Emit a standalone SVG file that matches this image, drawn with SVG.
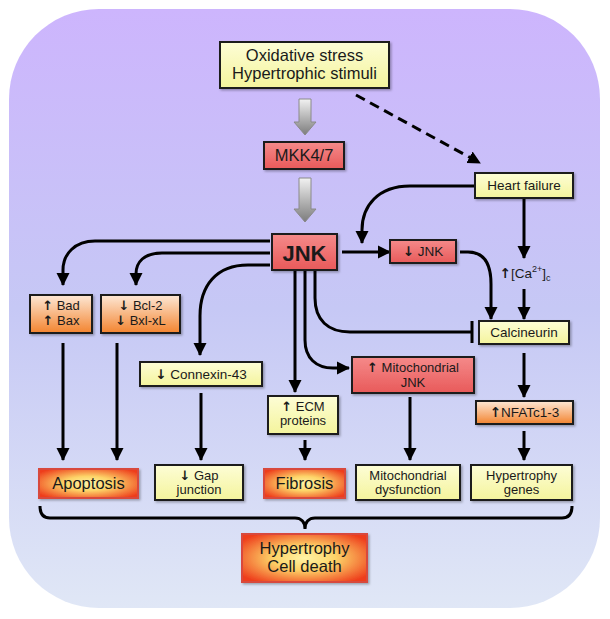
<svg xmlns="http://www.w3.org/2000/svg" width="610" height="619" viewBox="0 0 610 619">
<defs>
<linearGradient id="bg" x1="0" y1="0" x2="0" y2="1">
<stop offset="0" stop-color="#cdb5fd"/>
<stop offset="0.5" stop-color="#c6c8f5"/>
<stop offset="1" stop-color="#e0e7f6"/>
</linearGradient>
<linearGradient id="yel" x1="0" y1="0" x2="0" y2="1">
<stop offset="0" stop-color="#fdfdd6"/>
<stop offset="1" stop-color="#f4f49c"/>
</linearGradient>
<linearGradient id="red" x1="0" y1="0" x2="0" y2="1">
<stop offset="0" stop-color="#f58a8a"/>
<stop offset="1" stop-color="#e85a5a"/>
</linearGradient>
<linearGradient id="org" x1="0" y1="0" x2="0" y2="1">
<stop offset="0" stop-color="#fde8d6"/>
<stop offset="1" stop-color="#f3842f"/>
</linearGradient>
<radialGradient id="hot" cx="0.5" cy="0.5" r="0.62">
<stop offset="0" stop-color="#fff4a6"/>
<stop offset="0.4" stop-color="#fdd468"/>
<stop offset="1" stop-color="#ee3e1c"/>
</radialGradient>
<linearGradient id="gray" x1="0" y1="0" x2="0" y2="1">
<stop offset="0" stop-color="#f2f2f2"/>
<stop offset="1" stop-color="#7c7c7c"/>
</linearGradient>
<filter id="sh" x="-10%" y="-10%" width="130%" height="140%">
<feDropShadow dx="1.5" dy="1.5" stdDeviation="1" flood-color="#000" flood-opacity="0.3"/>
</filter>
<marker id="ah" markerUnits="userSpaceOnUse" markerWidth="14" markerHeight="14" viewBox="0 0 14 14" refX="12" refY="7" orient="auto">
<path d="M0,0.5 L13,7 L0,13.5 Z" fill="#000"/>
</marker>
</defs>
<style>
.ln{fill:none;stroke:#000;stroke-width:3}
.arr{marker-end:url(#ah)}
.box{stroke:#1a1a1a;stroke-width:2;filter:url(#sh)}
.y{fill:url(#yel)}
.r{fill:url(#red)}
.o{fill:url(#org)}
.h{fill:url(#hot);stroke:#d84a3c;stroke-width:2;filter:url(#sh)}
text{font-family:"Liberation Sans",Arial,sans-serif;fill:#1a1a1a;text-anchor:middle}
.s{font-size:13.5px}
.t{font-size:13px}
.m{font-size:16.5px}
.b{font-weight:bold}
.ar{font-family:"DejaVu Sans",sans-serif;font-weight:bold}
</style>
<rect x="9" y="9" width="591" height="599" rx="90" ry="90" fill="url(#bg)"/>

<g id="connectors">
<path class="ln" d="M356,95 L480,163" stroke-dasharray="10,6" marker-end="url(#ah)"/>
<path class="ln arr" d="M475,186 L410,186 C378,186 362,206 362,230 L362,243"/>
<path class="ln arr" d="M342,252 L390,252"/>
<path class="ln arr" d="M460,252 L468,252 C484,252 491,264 491,284 L491,319"/>
<path class="ln arr" d="M524,199 L524,258"/>
<path class="ln arr" d="M524,289 L524,319"/>
<path class="ln arr" d="M524,353 L524,397"/>
<path class="ln arr" d="M524,431 L524,460"/>
<path class="ln arr" d="M295,271 L295,392"/>
<path class="ln arr" d="M305,271 L305,340 C305,358 316,368 333,368 L349,368"/>
<path class="ln" d="M315,271 L315,298 C315,320 328,332 350,332 L472,332"/>
<path class="ln" d="M472,321 L472,343"/>
<path class="ln arr" d="M270,241 L95,241 C75,241 63,254 63,270 L63,285"/>
<path class="ln arr" d="M270,253 L162,253 C144,253 136,262 136,274 L136,285"/>
<path class="ln arr" d="M270,265 L248,265 C216,265 200,286 200,316 L200,355"/>
<path class="ln arr" d="M63,343 L63,460"/>
<path class="ln arr" d="M117,343 L117,460"/>
<path class="ln arr" d="M201,393 L201,460"/>
<path class="ln arr" d="M305,440 L305,460"/>
<path class="ln arr" d="M410,397 L410,460"/>
<path class="ln" d="M40,506 C40,514 43,518 50,518 L295,518 C301,518 305,522 305,529 C305,522 309,518 315,518 L562,518 C569,518 572,514 572,506"/>
<path d="M299,99 L311,99 L311,122 L316,122 L305,135 L294,122 L299,122 Z" fill="url(#gray)" stroke="#8a8a8a" stroke-width="1"/>
<path d="M299,178 L311,178 L311,209 L316,209 L305,222 L294,209 L299,209 Z" fill="url(#gray)" stroke="#8a8a8a" stroke-width="1"/>
</g>

<g id="oxidative">
<rect class="box y" x="220" y="42" width="169" height="46"/>
<text class="m" x="304.5" y="60.5">Oxidative stress</text>
<text class="m" x="304.5" y="79">Hypertrophic stimuli</text>
</g>
<g id="mkk">
<rect class="box r" x="264" y="142" width="80" height="27"/>
<text class="m" x="304" y="161">MKK4/7</text>
</g>
<g id="heartfailure">
<rect class="box y" x="475" y="173" width="98" height="25"/>
<text class="s" x="524" y="190">Heart failure</text>
</g>
<g id="jnk">
<rect class="box r" x="272" y="234" width="65" height="36"/>
<text class="b" font-size="22" x="304.5" y="261">JNK</text>
</g>
<g id="downjnk">
<rect class="box r" x="390" y="240" width="66" height="23"/>
<text class="s" x="423" y="256"><tspan class="ar">↓</tspan> JNK</text>
</g>
<g id="ca">
<text class="s" x="525" y="278"><tspan class="ar">↑</tspan>[Ca<tspan font-size="9" dy="-6">2+</tspan><tspan dy="6">]</tspan><tspan font-size="9" dy="3">c</tspan></text>
</g>
<g id="calcineurin">
<rect class="box y" x="479" y="321" width="90" height="23"/>
<text class="s" x="524" y="337">Calcineurin</text>
</g>
<g id="mitojnk">
<rect class="box r" x="352" y="357" width="122" height="36"/>
<text class="t" x="413" y="372"><tspan class="ar">↑</tspan> Mitochondrial</text>
<text class="t" x="413" y="387">JNK</text>
</g>
<g id="nfat">
<rect class="box o" x="476" y="401" width="97" height="23"/>
<text class="s" x="524.5" y="417"><tspan class="ar">↑</tspan>NFATc1-3</text>
</g>
<g id="badbax">
<rect class="box o" x="30" y="295" width="62" height="38"/>
<text class="t" x="61" y="310"><tspan class="ar">↑</tspan> Bad</text>
<text class="t" x="61" y="324.5"><tspan class="ar">↑</tspan> Bax</text>
</g>
<g id="bcl2">
<rect class="box o" x="101" y="295" width="79" height="38"/>
<text class="t" x="140.5" y="310"><tspan class="ar">↓</tspan> Bcl-2</text>
<text class="t" x="140.5" y="324.5"><tspan class="ar">↓</tspan> Bxl-xL</text>
</g>
<g id="connexin">
<rect class="box y" x="140" y="362" width="122" height="24"/>
<text class="s" x="201" y="379"><tspan class="ar">↓</tspan> Connexin-43</text>
</g>
<g id="ecm">
<rect class="box y" x="268" y="396" width="70" height="38"/>
<text class="t" x="303" y="410.5"><tspan class="ar">↑</tspan> ECM</text>
<text class="t" x="303" y="425">proteins</text>
</g>
<g id="apoptosis">
<rect class="h" x="39" y="469" width="99" height="29"/>
<text font-size="16.5" x="88.5" y="489">Apoptosis</text>
</g>
<g id="gap">
<rect class="box y" x="155" y="465" width="88" height="35"/>
<text class="t" x="199" y="479.5"><tspan class="ar">↓</tspan>  Gap</text>
<text class="t" x="199" y="494">junction</text>
</g>
<g id="fibrosis">
<rect class="h" x="264" y="469" width="81" height="29"/>
<text font-size="16.5" x="304.5" y="489">Fibrosis</text>
</g>
<g id="mitodys">
<rect class="box y" x="356" y="465" width="104" height="35"/>
<text class="t" x="408" y="479.5">Mitochondrial</text>
<text class="t" x="408" y="494">dysfunction</text>
</g>
<g id="hypgenes">
<rect class="box y" x="471" y="465" width="101" height="35"/>
<text class="t" x="521.5" y="479.5">Hypertrophy</text>
<text class="t" x="521.5" y="494">genes</text>
</g>
<g id="celldeath">
<rect class="h" x="242" y="534" width="125" height="48"/>
<text font-size="16.5" x="304.5" y="553.5">Hypertrophy</text>
<text font-size="16.5" x="304.5" y="572">Cell death</text>
</g>
</svg>
